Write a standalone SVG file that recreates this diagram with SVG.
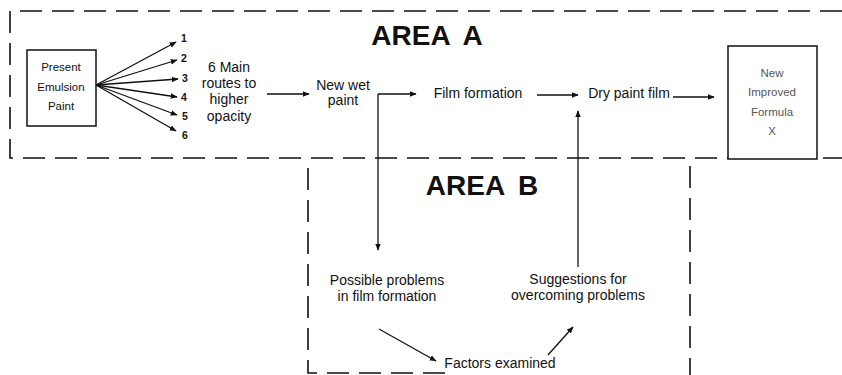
<svg xmlns="http://www.w3.org/2000/svg" width="842" height="375" viewBox="0 0 842 375">
<style>
.dash{fill:none;stroke:#111;stroke-width:1.6;stroke-dasharray:22 10}
.ln{fill:none;stroke:#111;stroke-width:1.3}
.box{fill:#fff;stroke:#111;stroke-width:1.5}
text{font-family:"Liberation Sans",Arial,sans-serif;fill:#111;text-anchor:middle}
.t{font-size:14px}
.s{font-size:11.5px}
.n{font-size:10.5px;font-weight:bold}
.h{font-size:28px;font-weight:bold}
.f{font-size:11.5px;fill:#555}
</style>
<defs>
<marker id="ah" viewBox="0 0 10 10" refX="9" refY="5" markerWidth="7" markerHeight="7" markerUnits="userSpaceOnUse" orient="auto">
<path d="M0,1 L10,5 L0,9 z" fill="#111"/>
</marker>
</defs>
<rect width="842" height="375" fill="#fff"/>
<g id="areas">
<path class="dash" d="M842 11 H10 V158 H842"/>
<path class="dash" d="M308 168 V373 H450"/>
<path class="dash" d="M690 166 V375"/>
<text class="h" x="427" y="45" word-spacing="6">AREA A</text>
<text class="h" x="482" y="195" word-spacing="6">AREA B</text>
</g>
<g id="present">
<rect class="box" x="27" y="50" width="69" height="76"/>
<text class="s" x="61" y="71">Present</text>
<text class="s" x="61" y="91">Emulsion</text>
<text class="s" x="61" y="110">Paint</text>
</g>
<g id="routes">
<text class="n" x="184" y="42">1</text>
<text class="n" x="184" y="62">2</text>
<text class="n" x="185" y="82">3</text>
<text class="n" x="184" y="101">4</text>
<text class="n" x="185" y="120">5</text>
<text class="n" x="185" y="139">6</text>
</g>
<g id="main-routes">
<text class="t" x="229" y="72">6 Main</text>
<text class="t" x="229" y="88">routes to</text>
<text class="t" x="229" y="104">higher</text>
<text class="t" x="229" y="121">opacity</text>
</g>
<g id="new-wet">
<text class="t" x="343" y="90">New wet</text>
<text class="t" x="343" y="105">paint</text>
</g>
<g id="film">
<text class="t" x="478" y="98">Film formation</text>
</g>
<g id="dry">
<text class="t" x="629" y="98">Dry paint film</text>
</g>
<g id="formula">
<rect class="box" x="728" y="46" width="89" height="113"/>
<text class="f" x="772" y="77">New</text>
<text class="f" x="772" y="96">Improved</text>
<text class="f" x="772" y="116">Formula</text>
<text class="f" x="772" y="135">X</text>
</g>
<g id="problems">
<text class="t" x="387" y="285">Possible problems</text>
<text class="t" x="387" y="301">in film formation</text>
</g>
<g id="suggestions">
<text class="t" x="578" y="284">Suggestions for</text>
<text class="t" x="578" y="300">overcoming problems</text>
</g>
<g id="factors">
<text class="t" x="500" y="368">Factors examined</text>
</g>
<g id="connectors">
<path class="ln" d="M96 85 L176 42" marker-end="url(#ah)"/>
<path class="ln" d="M96 85 L177 60" marker-end="url(#ah)"/>
<path class="ln" d="M96 85 L178 79" marker-end="url(#ah)"/>
<path class="ln" d="M96 85 L177 97" marker-end="url(#ah)"/>
<path class="ln" d="M96 85 L177 115" marker-end="url(#ah)"/>
<path class="ln" d="M96 85 L176 131" marker-end="url(#ah)"/>
<path class="ln" d="M267 94 L309 94" marker-end="url(#ah)"/>
<path class="ln" d="M378 94 L416 94" marker-end="url(#ah)"/>
<path class="ln" d="M378 94 L378 250" marker-end="url(#ah)"/>
<path class="ln" d="M537 95 L578 95" marker-end="url(#ah)"/>
<path class="ln" d="M673 97 L714 97" marker-end="url(#ah)"/>
<path class="ln" d="M578 267 L578 111" marker-end="url(#ah)"/>
<path class="ln" d="M379 329 L436 361" marker-end="url(#ah)"/>
<path class="ln" d="M548 355 L573 327" marker-end="url(#ah)"/>
</g>
</svg>
